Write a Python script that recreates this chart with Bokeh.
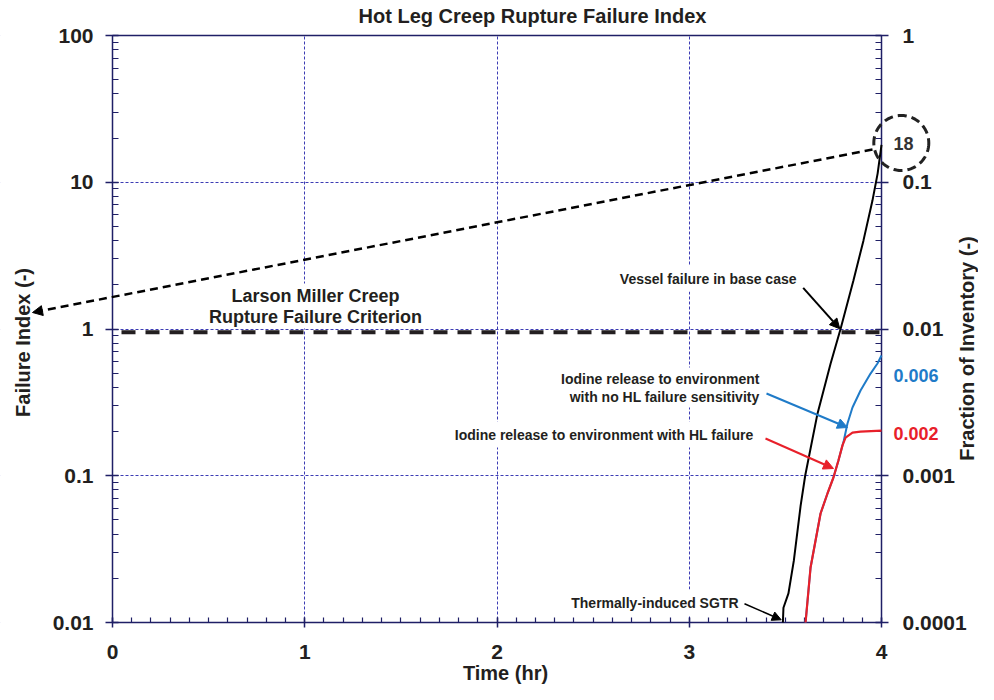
import numpy as np
from bokeh.plotting import figure
from bokeh.models import (Range1d, LogScale, LinearAxis, LogAxis, LogTicker, SingleIntervalTicker,
                          FixedTicker, CustomJSTickFormatter, Label, Arrow, NormalHead,
                          PolyAnnotation, BoxAnnotation)
from bokeh.embed import file_html
from bokeh.resources import INLINE

# ---------------- data ----------------
# Hot leg creep rupture failure index (left axis)
t_fi = [3.487, 3.490, 3.516, 3.544, 3.579, 3.603, 3.667, 3.735, 3.787, 3.854, 3.906, 3.953, 3.980, 4.000]
fi = [0.010, 0.0126, 0.0158, 0.0264, 0.062, 0.100, 0.265, 0.58, 1.0, 2.14, 4.0, 7.5, 11.5, 18.0]

# Iodine release to environment with HL failure (fraction, right axis)
t_hl = [3.605, 3.631, 3.683, 3.719, 3.750, 3.776, 3.797, 3.813, 3.849, 3.891, 4.000]
frac_hl = [1.0e-4, 2.37e-4, 5.53e-4, 7.57e-4, 9.73e-4, 1.27e-3, 1.61e-3, 1.82e-3, 1.97e-3, 2.00e-3, 2.03e-3]

# Iodine release with no HL failure sensitivity (fraction, right axis)
t_nohl = [3.605, 3.631, 3.683, 3.719, 3.750, 3.776, 3.797, 3.804, 3.823, 3.849, 3.891, 3.943, 3.979, 4.000]
frac_nohl = [1.0e-4, 2.37e-4, 5.53e-4, 7.57e-4, 9.73e-4, 1.27e-3, 1.61e-3, 1.74e-3, 2.27e-3, 2.92e-3, 3.81e-3, 4.97e-3, 5.82e-3, 6.6e-3]

# Larson Miller creep rupture failure criterion
crit_t = [0.0, 4.0]
crit_fi = [0.95, 0.95]

x_bounds = (0, 4)
fi_bounds = (0.01, 100)
frac_bounds = (1e-4, 1)

end_fi_label = "18"
end_nohl_label = "0.006"
end_hl_label = "0.002"

# ---------------- styling ----------------
FONT = "Liberation Sans"
TXT = "#231f20"
AX = "#1f1f66"
GRID = "#3c3cb4"
BLUE = "#1f7bc8"
RED = "#e8202a"

W, H = 978, 684
# plotting-area position in pixels; the frame fills the whole canvas and the
# axes are pinned at the data bounds
L, R, T, B = 112.0, 881.0, 35.0, 622.0
PX = (R - L) / (x_bounds[1] - x_bounds[0])  # pixels per hour
LO, HI = np.log10(fi_bounds[0]), np.log10(fi_bounds[1])
FRAC_PER_FI = frac_bounds[1] / fi_bounds[1]


def X(px):
    return x_bounds[0] + (px - L) / PX


def Y(py):
    return 10 ** (HI - (py - T) / (B - T) * (HI - LO))


p = figure(width=W, height=H,
           x_range=Range1d(X(0), X(W)), y_range=Range1d(Y(H), Y(0)),
           x_axis_location=None, y_axis_location=None, y_axis_type="log",
           output_backend="svg", toolbar_location=None,
           min_border_left=0, min_border_right=0, min_border_top=0, min_border_bottom=0,
           background_fill_color="white", border_fill_color="white",
           outline_line_color=None)

p.extra_y_ranges = {"frac": Range1d(Y(H) * FRAC_PER_FI, Y(0) * FRAC_PER_FI)}
p.extra_y_scales = {"frac": LogScale()}

fmt = CustomJSTickFormatter(code="return tick.toString();")
xt = SingleIntervalTicker(interval=1, num_minor_ticks=10)
yt = LogTicker(num_minor_ticks=10)

xax = LinearAxis(ticker=xt, bounds=x_bounds, fixed_location=fi_bounds[0])
yax = LogAxis(ticker=yt, formatter=fmt, bounds=fi_bounds, fixed_location=x_bounds[0])
rax = LogAxis(y_range_name="frac", ticker=LogTicker(num_minor_ticks=10), formatter=fmt,
              bounds=frac_bounds, fixed_location=x_bounds[1])
tax = LinearAxis(ticker=FixedTicker(ticks=[], minor_ticks=[]), bounds=x_bounds,
                 fixed_location=fi_bounds[1])

for ax in [xax, yax, rax, tax]:
    ax.axis_line_color = AX
    ax.axis_line_width = 1.5
    ax.major_tick_line_color = AX
    ax.minor_tick_line_color = AX
    ax.major_tick_line_width = 1.5
    ax.minor_tick_line_width = 1.2
    ax.major_tick_in = 6
    ax.major_tick_out = 7
    ax.minor_tick_in = 6
    ax.minor_tick_out = 0
    ax.major_label_text_font = FONT
    ax.major_label_text_font_style = "bold"
    ax.major_label_text_font_size = "21px"
    ax.major_label_text_color = TXT

xax.major_tick_out = 5
xax.major_tick_in = 5
xax.minor_tick_in = 5
xax.major_label_standoff = 17
yax.major_label_standoff = 12
rax.major_label_standoff = 14

p.add_layout(xax, "below")
p.add_layout(yax, "left")
p.add_layout(rax, "right")
p.add_layout(tax, "above")

# grid lines at the major ticks
p.xgrid.ticker = xt
p.ygrid.ticker = yt
for g in p.grid:
    g.grid_line_color = GRID
    g.grid_line_dash = "3 2"
    g.grid_line_width = 1

# blank out the grid outside the plotting area
for kw in (dict(left=X(-30), right=x_bounds[0]), dict(left=x_bounds[1], right=X(W + 30)),
           dict(top=fi_bounds[0], bottom=Y(H + 30)), dict(bottom=fi_bounds[1], top=Y(-30))):
    p.add_layout(BoxAnnotation(fill_color="white", fill_alpha=1, line_alpha=0,
                               level="underlay", **kw))
# clean strip at the very left edge of the canvas
p.add_layout(BoxAnnotation(left=X(-30), right=X(8), fill_color="white", fill_alpha=1,
                           line_alpha=0, level="overlay"))


# ---------------- labels ----------------
def lab(px, py, text, size="14px", align="center", color=TXT, pad=None, angle=0.0):
    kw = dict(x=X(px), y=Y(py), text=text, text_font=FONT, text_font_style="bold",
              text_font_size=size, text_color=color, text_align=align,
              text_baseline="middle", angle=angle)
    if pad is not None:
        kw.update(background_fill_color="white", padding=pad)
    lb = Label(**kw)
    p.add_layout(lb)
    return lb

lab(532, 15, "Hot Leg Creep Rupture Failure Index", size="20px")
lab(22, 342, "Failure Index (-)", size="20px", angle=np.pi / 2)
lab(966, 348, "Fraction of Inventory (-)", size="20px", angle=np.pi / 2)
lab(505, 672, "Time (hr)", size="20px")

lab(315, 316, "Rupture Failure Criterion", size="18px", pad=2)
lab(315, 295, "Larson Miller Creep", size="18px", pad=2)
lab(801, 278, "Vessel failure in base case", align="right", pad=5)
lab(762, 396, "with no HL failure sensitivity", align="right", pad=3)
lab(762, 378, "Iodine release to environment", align="right", pad=3)
lab(758, 434, "Iodine release to environment with HL failure", align="right", pad=5)
lab(743, 602, "Thermally-induced SGTR", align="right", pad=5)

lab(903, 143, end_fi_label, size="18px", color="#333333")
lab(893, 375, end_nohl_label, size="18px", align="left", color=BLUE)
lab(893, 433, end_hl_label, size="18px", align="left", color=RED)

# ---------------- curves ----------------
r1 = p.line(crit_t, crit_fi, line_color=TXT, line_width=4, line_dash="14 10", line_dash_offset=15)
r2 = p.line(t_nohl, frac_nohl, y_range_name="frac", line_color=BLUE, line_width=2)
r3 = p.line(t_hl, frac_hl, y_range_name="frac", line_color=RED, line_width=2.2)
r4 = p.line(t_fi, fi, line_color="black", line_width=2)
for r in (r1, r2, r3, r4):
    r.level = "overlay"


# ---------------- arrows ----------------
def arrow(x0, y0, x1, y1, color="black", width=2, dash="solid", size=10):
    a = Arrow(x_start=X(x0), y_start=Y(y0), x_end=X(x1), y_end=Y(y1),
              line_color=color, line_width=width, line_dash=dash,
              end=NormalHead(size=size, fill_color=color, line_color=color, line_width=1),
              level="overlay")
    p.add_layout(a)

arrow(872, 149, 32, 312, dash="8 5", width=2.5)
arrow(802.7, 287.3, 839.3, 328.3)
arrow(766, 393, 847, 427, color=BLUE)
arrow(765, 438, 833, 468, color=RED)
arrow(744, 603.3, 780.7, 619.3, width=1.5, size=9)

# dashed circle around the end value
cx, cy, rad = 900.8, 142.5, 27.5
th = np.linspace(0, 2 * np.pi, 73)
p.add_layout(PolyAnnotation(xs=[X(cx + rad * np.cos(a)) for a in th],
                            ys=[Y(cy + rad * np.sin(a)) for a in th],
                            fill_alpha=0, line_color="#222222", line_alpha=1, line_width=3,
                            line_dash="9 5", level="overlay"))

open("out.html", "w").write(file_html(p, INLINE))
